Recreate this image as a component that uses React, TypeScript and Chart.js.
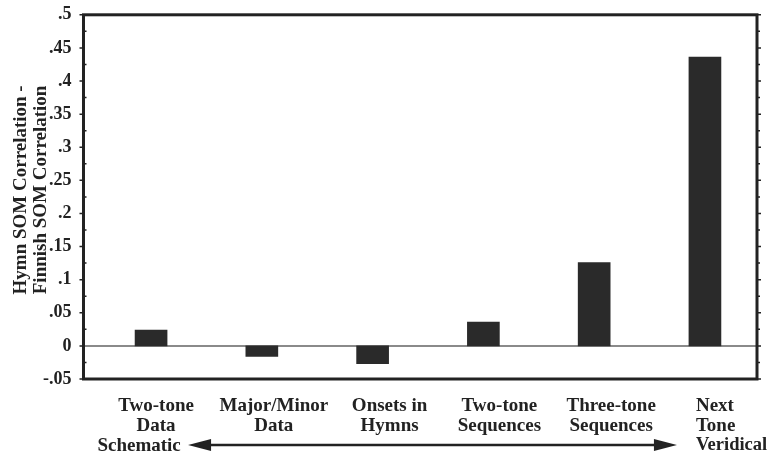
import React, { useEffect, useRef } from 'react';
import { Chart, registerables } from 'chart.js';
Chart.register(...registerables);

const categories: string[][] = [
  ['Two-tone', 'Data'],
  ['Major/Minor', 'Data'],
  ['Onsets in', 'Hymns'],
  ['Two-tone', 'Sequences'],
  ['Three-tone', 'Sequences'],
  ['Next', 'Tone'],
];
const values = [0.024, -0.016, -0.027, 0.036, 0.126, 0.436];
const yTickLabels = ['-.05', '0', '.05', '.1', '.15', '.2', '.25', '.3', '.35', '.4', '.45', '.5'];
const yTitle = ['Hymn SOM Correlation -', 'Finnish SOM Correlation'];
const arrowLabels = ['Schematic', 'Veridical'];

// layout-only constants (pixel nudges of the category labels relative to their bars)
const labelNudge = [5, 12, 17, 16, 17, -9];

const FONT = '"Liberation Serif", "DejaVu Serif", serif';
const INK = '#222';

const framePlugin = {
  id: 'frame',
  beforeDatasetsDraw(chart: any) {
    const { ctx, chartArea, scales } = chart;
    const y0 = scales.y.getPixelForValue(0);
    ctx.save();
    ctx.strokeStyle = '#8a8a8a';
    ctx.lineWidth = 2;
    ctx.beginPath();
    ctx.moveTo(chartArea.left, y0);
    ctx.lineTo(chartArea.right, y0);
    ctx.stroke();
    ctx.restore();
  },
  afterDraw(chart: any) {
    const { ctx, chartArea, scales } = chart;
    const { left, right, top, bottom } = chartArea;
    const ys = scales.y;
    ctx.save();
    ctx.strokeStyle = INK;
    ctx.lineWidth = 3;
    ctx.strokeRect(left, top, right - left, bottom - top);
    ctx.lineWidth = 1.5;
    for (let i = 0; i < yTickLabels.length; i++) {
      const v = -0.05 + i * 0.05;
      const p = ys.getPixelForValue(v);
      ctx.beginPath();
      ctx.moveTo(left - 4, p); ctx.lineTo(left, p);
      ctx.moveTo(right, p); ctx.lineTo(right + 4, p);
      ctx.stroke();
      if (i < yTickLabels.length - 1) {
        const pm = ys.getPixelForValue(v + 0.025);
        ctx.beginPath();
        ctx.moveTo(left, pm); ctx.lineTo(left + 3, pm);
        ctx.moveTo(right, pm); ctx.lineTo(right + 3, pm);
        ctx.stroke();
      }
    }
    // y title
    ctx.fillStyle = INK;
    ctx.font = `bold 19px ${FONT}`;
    ctx.textAlign = 'center';
    ctx.textBaseline = 'middle';
    const midY = (ys.getPixelForValue(0.5) + ys.getPixelForValue(-0.05)) / 2;
    yTitle.forEach((t, j) => {
      ctx.save();
      ctx.translate(21 + j * 20, midY - 7);
      ctx.rotate(-Math.PI / 2);
      ctx.fillText(t, 0, 0);
      ctx.restore();
    });
    // category labels
    const xs = scales.x;
    const firstY = 406;
    const lh = 20;
    categories.forEach((lines, i) => {
      const cx = xs.getPixelForValue(i) + labelNudge[i];
      const last = i === categories.length - 1;
      ctx.textAlign = last ? 'left' : 'center';
      lines.forEach((t, j) => ctx.fillText(t, cx, firstY + j * lh));
    });
    // arrow
    const ay = 445;
    const lx = xs.getPixelForValue(0) + 37;
    const rx = xs.getPixelForValue(categories.length - 1) - 28;
    ctx.lineWidth = 2.5;
    ctx.beginPath();
    ctx.moveTo(lx + 18, ay); ctx.lineTo(rx - 18, ay);
    ctx.stroke();
    ctx.beginPath();
    ctx.moveTo(lx, ay); ctx.lineTo(lx + 23, ay - 6); ctx.lineTo(lx + 23, ay + 6); ctx.closePath();
    ctx.fill();
    ctx.beginPath();
    ctx.moveTo(rx, ay); ctx.lineTo(rx - 23, ay - 6); ctx.lineTo(rx - 23, ay + 6); ctx.closePath();
    ctx.fill();
    ctx.textAlign = 'center';
    ctx.fillText(arrowLabels[0], xs.getPixelForValue(0) - 12, 446);
    ctx.textAlign = 'left';
    ctx.font = `bold 18.5px ${FONT}`;
    ctx.fillText(arrowLabels[1], xs.getPixelForValue(categories.length - 1) - 9, 445);
    ctx.restore();
  },
};

export default function App() {
  const ref = useRef<HTMLCanvasElement>(null);
  useEffect(() => {
    const chart = new Chart(ref.current as HTMLCanvasElement, {
      type: 'bar',
      data: {
        datasets: [
          {
            data: values.map((v, i) => ({ x: i, y: v })),
            backgroundColor: '#2a2a2a',
            borderWidth: 0,
            barThickness: 32,
          },
        ],
      },
      options: {
        animation: false,
        responsive: false,
        maintainAspectRatio: false,
        layout: { padding: { top: 5, bottom: 77, left: 39, right: 11 } },
        plugins: { legend: { display: false }, tooltip: { enabled: false } },
        scales: {
          x: { type: 'linear', display: false, min: -0.61, max: 5.47, offset: false },
          y: {
            min: -0.05,
            max: 0.5,
            border: { display: false },
            grid: { display: false },
            ticks: {
              stepSize: 0.05,
              color: INK,
              padding: 4,
              font: { family: FONT, size: 18, weight: 'bold' },
              callback: (_v: any, i: number) => yTickLabels[i],
            },
          },
        },
      },
      plugins: [framePlugin],
    });
    return () => chart.destroy();
  }, []);
  return (
    <div style={{ position: 'fixed', left: 0, top: 0, width: 768, height: 456, background: '#fff' }}>
      <canvas ref={ref} width={768} height={456} />
    </div>
  );
}
